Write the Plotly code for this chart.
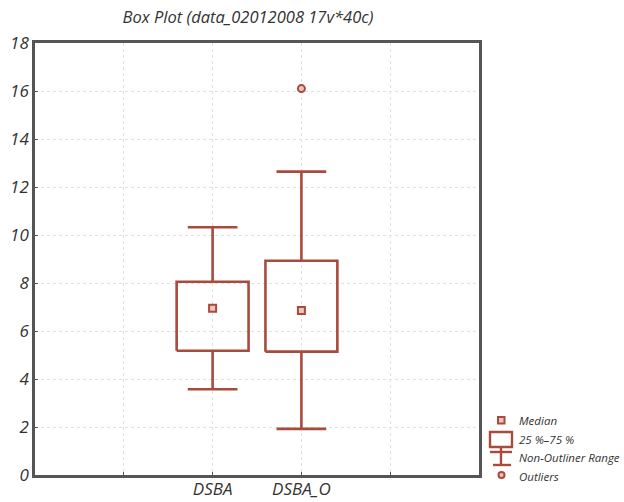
import plotly.graph_objects as go

# ---- data ----
categories = ["DSBA", "DSBA_O"]
q1 = [5.18, 5.14]
median = [6.95, 6.85]
q3 = [8.05, 8.93]
whisker_low = [3.57, 1.92]
whisker_high = [10.32, 12.64]
outlier_cat = ["DSBA_O"]
outlier_val = [16.1]
y_ticks = [0, 2, 4, 6, 8, 10, 12, 14, 16, 18]

# ---- style ----
RED = "#a84a3c"
FILL = "#eec4bb"
FRAME = "#555555"
FONT = "Open Sans"
BOX_HW = 0.405
CAP_HW = 0.28
pos = {c: i + 2 for i, c in enumerate(categories)}

fig = go.Figure()
for i, c in enumerate(categories):
    p = pos[c]
    fig.add_trace(go.Scatter(
        x=[p - BOX_HW, p + BOX_HW, p + BOX_HW, p - BOX_HW, p - BOX_HW],
        y=[q1[i], q1[i], q3[i], q3[i], q1[i]],
        mode="lines", line=dict(color=RED, width=2.6), showlegend=False, hoverinfo="skip"))
    fig.add_trace(go.Scatter(
        x=[p, p, None, p, p, None, p - CAP_HW, p + CAP_HW, None, p - CAP_HW, p + CAP_HW],
        y=[q3[i], whisker_high[i], None, q1[i], whisker_low[i], None,
           whisker_high[i], whisker_high[i], None, whisker_low[i], whisker_low[i]],
        mode="lines", line=dict(color=RED, width=2.6), showlegend=False, hoverinfo="skip"))

fig.add_trace(go.Scatter(
    x=[pos[c] for c in categories], y=median, mode="markers",
    marker=dict(symbol="square", size=7, color=FILL, line=dict(color=RED, width=2)),
    showlegend=False))
fig.add_trace(go.Scatter(
    x=[pos[c] for c in outlier_cat], y=outlier_val, mode="markers",
    marker=dict(symbol="circle", size=7, color=FILL, line=dict(color=RED, width=2)),
    showlegend=False))

W, H = 624, 502
L, R, T, B = 35, 145, 43, 27
PW, PH = W - L - R, H - T - B

def px(x):
    return (x - L) / PW
def py(y):
    return (H - B - y) / PH

shapes = []
shapes.append(dict(type="rect", xref="paper", yref="paper",
                   x0=px(498), x1=px(504.5), y0=py(423.5), y1=py(417),
                   line=dict(color=RED, width=2), fillcolor=FILL))
shapes.append(dict(type="rect", xref="paper", yref="paper",
                   x0=px(490), x1=px(512), y0=py(447), y1=py(432),
                   line=dict(color=RED, width=2.4), fillcolor="white"))
shapes.append(dict(type="line", xref="paper", yref="paper",
                   x0=px(490), x1=px(512), y0=py(452), y1=py(452),
                   line=dict(color=RED, width=2.4)))
shapes.append(dict(type="line", xref="paper", yref="paper",
                   x0=px(501), x1=px(501), y0=py(447), y1=py(465),
                   line=dict(color=RED, width=2.4)))
shapes.append(dict(type="line", xref="paper", yref="paper",
                   x0=px(493), x1=px(511), y0=py(465), y1=py(465),
                   line=dict(color=RED, width=2.4)))
shapes.append(dict(type="circle", xref="paper", yref="paper",
                   x0=px(498.5), x1=px(504.5), y0=py(478), y1=py(472),
                   line=dict(color=RED, width=2), fillcolor=FILL))

legend_texts = [("Median", 420), ("25 %\u201375 %", 439), ("Non-Outliner Range", 457), ("Outliers", 476)]
annotations = []
for txt, yy in legend_texts:
    annotations.append(dict(text=txt, xref="paper", yref="paper", x=px(517), y=py(yy),
                            xanchor="left", yanchor="middle", showarrow=False,
                            font=dict(family=FONT, size=11.5, color="#333", style="italic")))

fig.update_layout(
    width=W, height=H,
    margin=dict(l=L, r=R, t=T, b=B, autoexpand=False),
    paper_bgcolor="white", plot_bgcolor="white",
    showlegend=False,
    title=dict(text="Box Plot (data_02012008 17v*40c)", xref="paper", x=(248 - L) / PW,
               xanchor="center", yref="container", y=1 - 17 / H, yanchor="middle",
               font=dict(family=FONT, size=16.5, color="#333", style="italic")),
    shapes=shapes, annotations=annotations,
)
fig.update_xaxes(range=[0, 5], tickvals=[1, 2, 3, 4], ticktext=["", "DSBA", "DSBA_O", ""],
                 showgrid=True, gridcolor="#e0e0e0", griddash="dot", gridwidth=1,
                 showline=True, mirror=True, linecolor=FRAME, linewidth=2.5,
                 ticks="inside", ticklen=3, tickcolor=FRAME, zeroline=False, automargin=False,
                 ticklabelstandoff=-3,
                 tickfont=dict(family=FONT, size=17, color="#333", style="italic"))
fig.update_yaxes(range=[0, 18], tickvals=y_ticks,
                 showgrid=True, gridcolor="#e0e0e0", griddash="dot", gridwidth=1,
                 showline=True, mirror=True, linecolor=FRAME, linewidth=2.5,
                 ticks="inside", ticklen=3, tickcolor=FRAME, zeroline=False, automargin=False,
                 tickfont=dict(family=FONT, size=17, color="#333", style="italic"))

fig.write_html("out.html")
